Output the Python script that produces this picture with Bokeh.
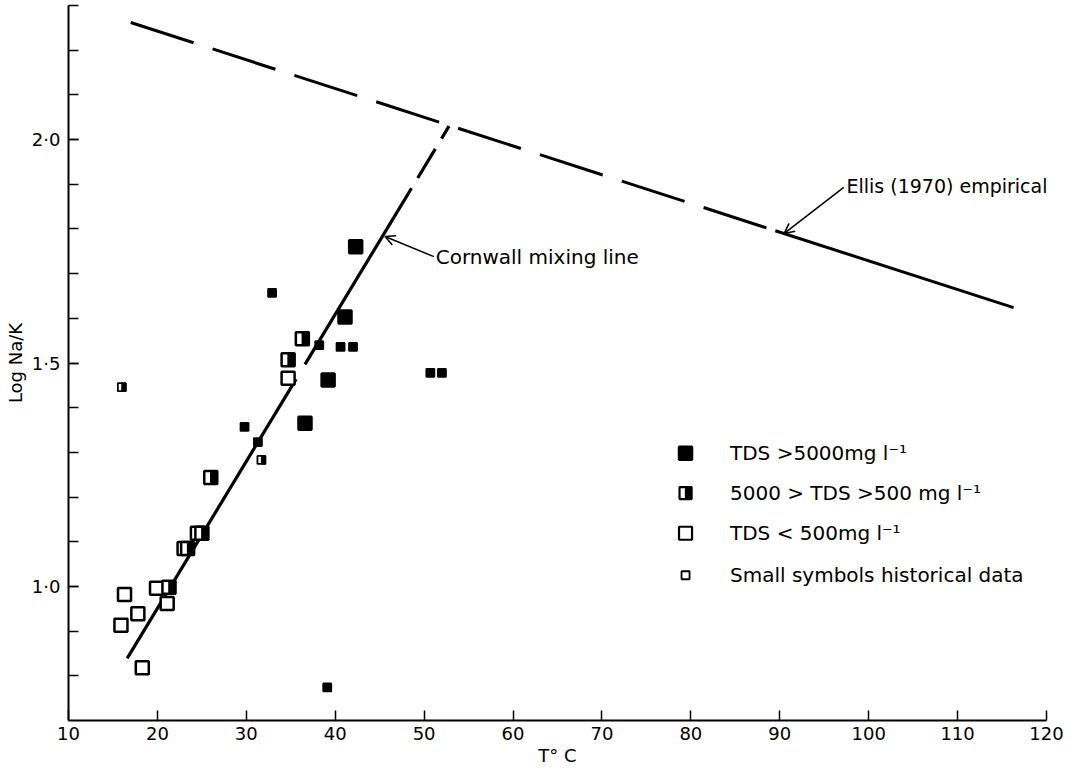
from bokeh.plotting import figure
from bokeh.models import (Range1d, FixedTicker, CustomJSTickFormatter, Arrow,
                          OpenHead, Label)
from bokeh.transform import dodge
from bokeh.embed import file_html
from bokeh.resources import INLINE

# ---------------- data ----------------
# TDS > 5000 mg/l  (large filled)
big_filled_T = [42.3, 41.1, 39.2, 36.6]
big_filled_lnk = [1.760, 1.603, 1.462, 1.365]
# historical, TDS > 5000 (small filled)
small_filled_T = [32.9, 38.2, 40.6, 42.0, 50.7, 52.0, 29.8, 31.3, 39.1]
small_filled_lnk = [1.657, 1.540, 1.536, 1.536, 1.478, 1.478, 1.357, 1.323, 0.774]
# 5000 > TDS > 500 (large half)
big_half_T = [36.3, 34.7, 26.0, 25.0, 23.4, 21.3]
big_half_lnk = [1.554, 1.507, 1.244, 1.119, 1.085, 0.998]
# historical, 5000 > TDS > 500 (small half)
small_half_T = [16.0, 31.7]
small_half_lnk = [1.446, 1.283]
# TDS < 500 (large open)
big_open_T = [16.3, 17.8, 15.9, 18.3, 19.9, 21.1, 23.0, 24.5, 34.7]
big_open_lnk = [0.982, 0.939, 0.913, 0.818, 0.996, 0.962, 1.085, 1.119, 1.466]

# Cornwall mixing line (solid pieces then dashed)
cornwall_seg1_T = [16.6, 35.6]
cornwall_seg1_lnk = [0.839, 1.464]
cornwall_seg2_T = [36.6, 46.6]
cornwall_seg2_lnk = [1.497, 1.826]
cornwall_dash_T = [46.6, 52.8]
cornwall_dash_lnk = [1.826, 2.030]

# Ellis (1970) empirical (dashed then solid)
ellis_dash_T = [17.0, 89.5]
ellis_dash_lnk = [2.262, 1.796]
ellis_solid_T = [89.5, 116.3]
ellis_solid_lnk = [1.796, 1.624]

x_ticks = list(range(10, 121, 10))
y_major = [1.0, 1.5, 2.0]
y_minor = [round(0.8 + 0.1 * i, 1) for i in range(16)]

legend_labels = ["TDS \u003e5000mg l\u207b\u00b9",
                 "5000 \u003e TDS \u003e500 mg l\u207b\u00b9",
                 "TDS \u003c 500mg l\u207b\u00b9",
                 "Small symbols historical data"]

# ---------------- figure ----------------
FONT = "DejaVu Sans"
TXT = "20px"
W, H = 1077, 774
L, R, T, B = 68, 31, 5, 54
p = figure(width=W, height=H, output_backend="svg", toolbar_location=None,
           x_range=Range1d(10, 120), y_range=Range1d(0.7, 2.3),
           min_border_left=L, min_border_right=R, min_border_top=T,
           min_border_bottom=B)
p.outline_line_color = None
p.xgrid.visible = False
p.ygrid.visible = False
p.background_fill_color = "white"

for ax in (p.xaxis[0], p.yaxis[0]):
    ax.axis_line_width = 2
    ax.axis_line_color = "black"
    ax.major_tick_in = 10
    ax.major_tick_out = 0
    ax.minor_tick_in = 10
    ax.minor_tick_out = 0
    ax.major_tick_line_width = 1.5
    ax.minor_tick_line_width = 1.5
    ax.major_label_text_font = FONT
    ax.major_label_text_font_size = "18px"
    ax.major_label_text_color = "black"
    ax.axis_label_text_font = FONT
    ax.axis_label_text_font_style = "normal"
    ax.axis_label_text_font_size = "18px"
    ax.axis_label_text_color = "black"

p.xaxis.ticker = FixedTicker(ticks=x_ticks, minor_ticks=[])
p.xaxis.axis_label = "T\u00b0 C"
p.xaxis.major_label_standoff = 6
p.xaxis.axis_label_standoff = 2

p.yaxis.ticker = FixedTicker(ticks=y_major, minor_ticks=y_minor)
p.yaxis.formatter = CustomJSTickFormatter(code="return tick.toFixed(1).replace('.', '\u00b7');")
p.yaxis.axis_label = "Log Na/K"
p.yaxis.major_label_standoff = 8
p.yaxis.axis_label_standoff = 3

# lines
p.line(cornwall_seg1_T, cornwall_seg1_lnk, line_color="black", line_width=3.2)
p.line(cornwall_seg2_T, cornwall_seg2_lnk, line_color="black", line_width=3.2)
p.line(cornwall_dash_T, cornwall_dash_lnk, line_color="black", line_width=3.2,
       line_dash="34 12")
p.line(ellis_dash_T, ellis_dash_lnk, line_color="black", line_width=3,
       line_dash="66 20")
p.line(ellis_solid_T, ellis_solid_lnk, line_color="black", line_width=3)

BIG, SMALL = 13, 8
PX_PER_DEG = (W - L - R) / 110.0


def half_symbols(xs, ys, size, lw):
    src = dict(x=xs, y=ys)
    p.scatter("x", "y", source=src, marker="square", size=size,
              fill_color="white", line_color="black", line_width=lw)
    off = (size / 4.0) / PX_PER_DEG
    p.rect(dodge("x", off, range=p.x_range), "y", source=src,
           width=size / 2.0, height=size, width_units="screen",
           height_units="screen", fill_color="black", line_color="black",
           line_width=lw * 0.6)


# data markers
p.scatter(big_open_T, big_open_lnk, marker="square", size=BIG,
          fill_color="white", line_color="black", line_width=2.5)
half_symbols(big_half_T, big_half_lnk, BIG, 2.5)
half_symbols(small_half_T, small_half_lnk, SMALL, 1.8)
p.scatter(big_filled_T, big_filled_lnk, marker="square", size=BIG,
          fill_color="black", line_color="black", line_width=2.5)
p.scatter(small_filled_T, small_filled_lnk, marker="square", size=SMALL,
          fill_color="black", line_color="black", line_width=1.8)

# annotations
p.add_layout(Arrow(end=OpenHead(size=10, line_width=1.5, line_color="black"),
                   x_start=51.1, y_start=1.738, x_end=45.6, y_end=1.783,
                   line_width=1.5, line_color="black"))
p.add_layout(Label(x=51.3, y=1.738, text="Cornwall mixing line",
                   text_font=FONT, text_font_size=TXT, text_color="black",
                   text_baseline="middle", text_align="left"))
p.add_layout(Arrow(end=OpenHead(size=10, line_width=1.5, line_color="black"),
                   x_start=97.2, y_start=1.893, x_end=90.5, y_end=1.790,
                   line_width=1.5, line_color="black"))
p.add_layout(Label(x=97.5, y=1.895, text="Ellis (1970) empirical",
                   text_font=FONT, text_font_size="19px", text_color="black",
                   text_baseline="middle", text_align="left"))

# legend (manual)
LEG_X, TXT_X = 79.4, 84.4
LEG_Y = [1.298, 1.209, 1.119, 1.025]
p.scatter([LEG_X], [LEG_Y[0]], marker="square", size=BIG, fill_color="black",
          line_color="black", line_width=2.5)
half_symbols([LEG_X], [LEG_Y[1]], BIG - 1, 2.2)
p.scatter([LEG_X], [LEG_Y[2]], marker="square", size=BIG, fill_color="white",
          line_color="black", line_width=2.2)
p.scatter([LEG_X], [LEG_Y[3]], marker="square", size=SMALL, fill_color="white",
          line_color="black", line_width=1.8)
for lab, yy in zip(legend_labels, LEG_Y):
    p.add_layout(Label(x=TXT_X, y=yy, text=lab, text_font=FONT,
                       text_font_size=TXT, text_color="black",
                       text_baseline="middle", text_align="left"))

open("out.html", "w").write(file_html(p, INLINE))
